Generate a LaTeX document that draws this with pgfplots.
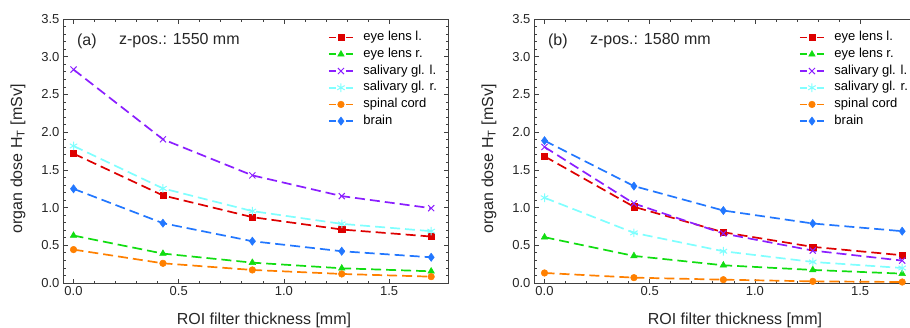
\documentclass[border=0pt]{standalone}
\usepackage{pgfplots}
\pgfplotsset{compat=1.18}
\usepackage{fontspec}
\setmainfont{Liberation Sans}
\definecolor{cred}{HTML}{DD0000}
\definecolor{cgreen}{HTML}{11DD11}
\definecolor{cpurple}{HTML}{8B1FFF}
\definecolor{ccyan}{HTML}{80FFFF}
\definecolor{corange}{HTML}{FF8000}
\definecolor{cblue}{HTML}{2277FF}

\pgfplotstableread{
x     el    er    sl    sr    sc    br
0     1.715 0.629 2.83  1.817 0.443 1.249
0.425 1.161 0.390 1.905 1.254 0.261 0.793
0.85  0.873 0.270 1.427 0.953 0.173 0.554
1.275 0.709 0.195 1.152 0.784 0.120 0.421
1.7   0.616 0.155 0.992 0.687 0.084 0.341
}\dataA
\pgfplotstableread{
x     el    er    sl    sr    sc    br
0     1.679 0.607 1.803 1.130 0.133 1.887
0.425 1.010 0.359 1.054 0.665 0.071 1.285
0.85  0.673 0.235 0.656 0.421 0.044 0.961
1.275 0.479 0.173 0.430 0.279 0.022 0.789
1.7   0.368 0.124 0.297 0.199 0.013 0.687
}\dataB

\pgfplotsset{
  myaxis/.style={
    scale only axis, width=385pt, height=264pt,
    xmin=-0.05, xmax=1.78, ymin=0, ymax=3.5,
    xtick={0,0.5,1,1.5}, ytick={0,0.5,...,3.5},
    minor x tick num=4, minor y tick num=4,
    tick align=inside, axis line style={draw=black!75, line width=0.8pt},
    every tick/.style={draw=black!75, line width=0.7pt},
    major tick length=4.5pt, minor tick length=2.5pt,
    xticklabel style={/pgf/number format/.cd, fixed, fixed zerofill, precision=1},
    yticklabel style={/pgf/number format/.cd, fixed, fixed zerofill, precision=1},
    /pgf/number format/assume math mode=true,
    tick label style={font=\fontsize{13}{15}\selectfont, text=black!85},
    xlabel={ROI filter thickness [mm]},
    ylabel={organ dose H\textsubscript{T} [mSv]},
    every axis x label/.style={at={(axis description cs:0.522,-0.14)}, anchor=center,
      font=\fontsize{16}{19}\selectfont, text=black!85},
    every axis y label/.style={at={(axis description cs:-0.117,0.47)}, anchor=center, rotate=90,
      font=\fontsize{16}{19}\selectfont, text=black!85},
    legend style={at={(rel axis cs:0.973,0.955)}, anchor=north east, draw=none, fill=none,
      inner sep=0pt, font=\fontsize{13}{16.6}\selectfont, row sep=3.6pt,
      nodes={inner sep=0.5pt, text height=9.3pt, text depth=2.8pt}},
    legend cell align=left,
    legend image code/.code={
      \path[draw=none, fill=none] (0pt,-1pt) rectangle (34pt,1pt);
      \draw[dash pattern=on 7pt off 10pt, mark repeat=2, mark phase=2]
        plot coordinates {(0pt,0pt)(12pt,0pt)(24pt,0pt)};
    },
  },
  base/.style={line width=1.7pt, dash pattern=on 10pt off 5pt},
  pel/.style={base, color=cred, mark=square*, mark size=3.1pt, mark options={solid, line width=0.5pt}},
  per/.style={base, color=cgreen, mark=triangle*, mark size=3.8pt, mark options={solid, line width=0.5pt}},
  psl/.style={base, color=cpurple, mark=x, mark size=4.3pt, mark options={solid, line width=1pt}},
  psr/.style={base, color=ccyan, mark=asterisk, mark size=4.3pt, mark options={solid, line width=1pt}},
  psc/.style={base, color=corange, mark=*, mark size=3.3pt, mark options={solid, line width=0.5pt}},
  pbr/.style={base, color=cblue, mark=diamond*, mark size=4.1pt, mark options={solid, line width=0.5pt}},
}

\begin{document}
\begin{tikzpicture}[x=1pt,y=1pt]
\useasboundingbox (0,0) rectangle (910,327);
\clip (0,0) rectangle (910,327);
\begin{axis}[myaxis, at={(63pt,44pt)}, anchor=south west]
\addplot[pel] table[x=x,y=el] {\dataA}; \addlegendentry{eye lens l.}
\addplot[per] table[x=x,y=er] {\dataA}; \addlegendentry{eye lens r.}
\addplot[psl] table[x=x,y=sl] {\dataA}; \addlegendentry{salivary gl. l.}
\addplot[psr] table[x=x,y=sr] {\dataA}; \addlegendentry{salivary gl. r.}
\addplot[psc] table[x=x,y=sc] {\dataA}; \addlegendentry{spinal cord}
\addplot[pbr] table[x=x,y=br] {\dataA}; \addlegendentry{brain}
\node[anchor=west, font=\fontsize{16}{19}\selectfont, text=black!85, inner sep=0pt] at (rel axis cs:0.036,0.917) {(a)};
\node[anchor=west, font=\fontsize{16}{19}\selectfont, text=black!85, inner sep=0pt] at (rel axis cs:0.145,0.917) {z-pos.: 1550 mm};
\end{axis}
\begin{axis}[myaxis, at={(534pt,44pt)}, anchor=south west]
\addplot[pel] table[x=x,y=el] {\dataB}; \addlegendentry{eye lens l.}
\addplot[per] table[x=x,y=er] {\dataB}; \addlegendentry{eye lens r.}
\addplot[psl] table[x=x,y=sl] {\dataB}; \addlegendentry{salivary gl. l.}
\addplot[psr] table[x=x,y=sr] {\dataB}; \addlegendentry{salivary gl. r.}
\addplot[psc] table[x=x,y=sc] {\dataB}; \addlegendentry{spinal cord}
\addplot[pbr] table[x=x,y=br] {\dataB}; \addlegendentry{brain}
\node[anchor=west, font=\fontsize{16}{19}\selectfont, text=black!85, inner sep=0pt] at (rel axis cs:0.036,0.917) {(b)};
\node[anchor=west, font=\fontsize{16}{19}\selectfont, text=black!85, inner sep=0pt] at (rel axis cs:0.145,0.917) {z-pos.: 1580 mm};
\end{axis}
\end{tikzpicture}
\end{document}
